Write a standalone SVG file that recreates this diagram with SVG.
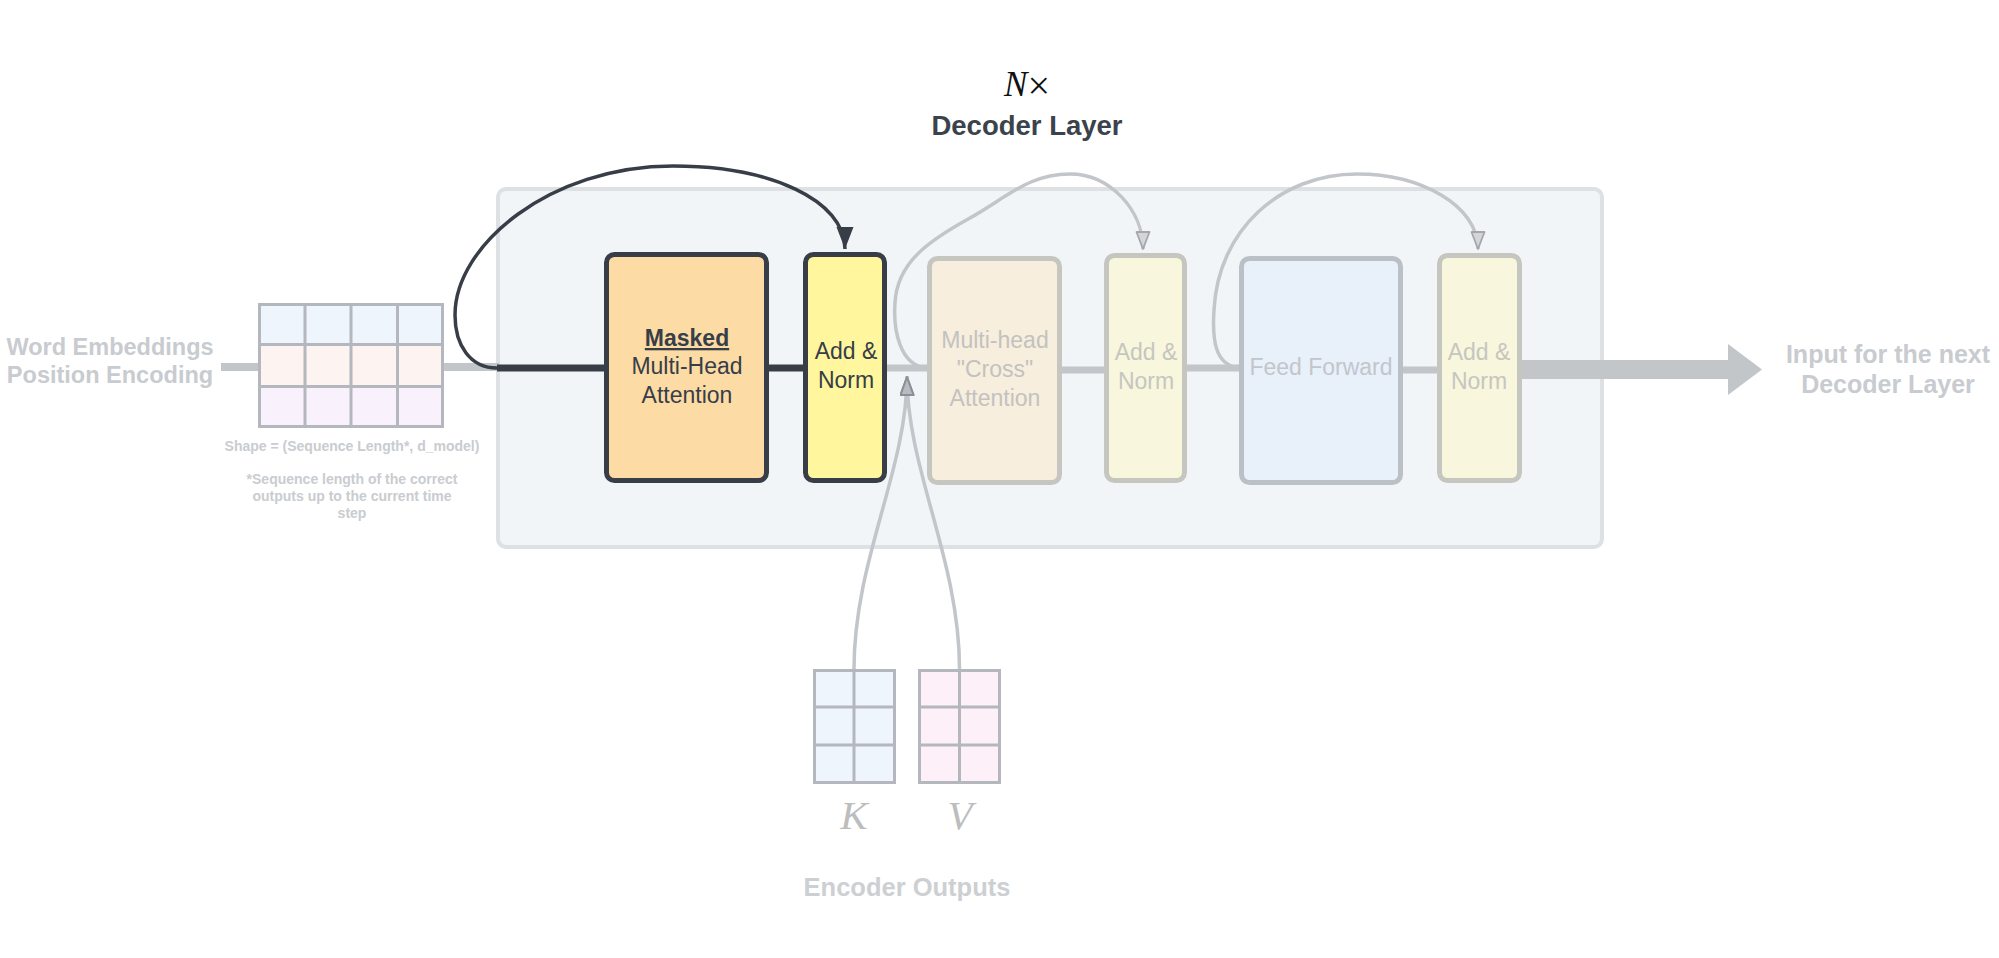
<svg xmlns="http://www.w3.org/2000/svg" width="1999" height="958" viewBox="0 0 1999 958">
<defs>
<style>
.lbl{font-family:"Liberation Sans",Arial,sans-serif;font-weight:bold;fill:#c8cbcf;text-anchor:middle}
.small{font-family:"Liberation Sans",Arial,sans-serif;font-weight:bold;font-size:14px;fill:#c9ccd0;text-anchor:middle}
.box{font-family:"Liberation Sans",Arial,sans-serif;font-size:23px;text-anchor:middle}
.math{font-family:"Liberation Serif","Times New Roman",serif;text-anchor:middle}
.mat{stroke:#b4b7be;stroke-width:3}
.gl{fill:none;stroke:#c2c5c9;stroke-width:3.5}
</style>
<marker id="ad" markerUnits="userSpaceOnUse" markerWidth="24" markerHeight="18" refX="22" refY="8.5" orient="auto" viewBox="0 0 24 18">
<path d="M0,0 L22,8.5 L0,17 z" fill="#373e47"/>
</marker>
<marker id="ag" markerUnits="userSpaceOnUse" markerWidth="20" markerHeight="16" refX="18" refY="7.5" orient="auto" viewBox="0 0 20 16">
<path d="M1,1 L18,7.5 L1,14 z" fill="#d3d5d8" stroke="#a4a8ad" stroke-width="1.8" stroke-linejoin="round"/>
</marker>
<marker id="ae" markerUnits="userSpaceOnUse" markerWidth="22" markerHeight="16" refX="20" refY="7.5" orient="auto" viewBox="0 0 22 16">
<path d="M1,1 L19,7.5 L1,14 z" fill="#b8bcc1" stroke="#8a9097" stroke-width="2" stroke-linejoin="round"/>
</marker>
</defs>
<rect width="1999" height="958" fill="#ffffff"/>

<g id="title">
<text class="math" x="1027" y="96" font-size="35" fill="#111111"><tspan font-style="italic">N</tspan><tspan font-size="40" dy="3">×</tspan></text>
<text class="lbl" x="1027" y="135" font-size="27.5" style="fill:#3a424b">Decoder Layer</text>
</g>

<g id="decoder-layer">
<rect x="498" y="189" width="1104" height="358" rx="8" fill="#f2f5f7" stroke="#dde1e4" stroke-width="4"/>
</g>

<g id="connectors">
<line x1="221" y1="367" x2="258" y2="367" stroke="#c3c6c9" stroke-width="8"/>
<line x1="444" y1="367" x2="499" y2="367" stroke="#c3c6c9" stroke-width="8"/>
<line x1="497" y1="368" x2="606" y2="368" stroke="#373e47" stroke-width="7"/>
<line x1="767" y1="368" x2="805" y2="368" stroke="#373e47" stroke-width="7"/>
<line x1="887" y1="368" x2="929" y2="368" stroke="#c2c5c9" stroke-width="7"/>
<line x1="1060" y1="370" x2="1106" y2="370" stroke="#c2c5c9" stroke-width="7"/>
<line x1="1185" y1="368" x2="1241" y2="368" stroke="#c2c5c9" stroke-width="7"/>
<line x1="1401" y1="370" x2="1439" y2="370" stroke="#c2c5c9" stroke-width="7"/>
<line x1="1520" y1="369.5" x2="1729" y2="369.5" stroke="#c3c6c9" stroke-width="19"/>
<polygon points="1728,344 1762,369.5 1728,395" fill="#c3c6c9"/>
<path d="M497,368 C470,368 455,345 455,315 C455,245 550,166 673,166 C770,166 845,200 845,249" fill="none" stroke="#373e47" stroke-width="3.5" marker-end="url(#ad)"/>
<path class="gl" d="M927,368 C900,366 893,330 895,303 C897,262 930,240 970,218 C1010,195 1030,174 1070,174 C1110,174 1143,210 1143,249" marker-end="url(#ag)"/>
<path class="gl" d="M1240,368 C1215,366 1212,340 1214,310 C1218,230 1280,174 1357,174 C1420,174 1478,205 1478,249" marker-end="url(#ag)"/>
<path class="gl" d="M854,669 C854,560 907,470 907,376" marker-end="url(#ae)"/>
<path class="gl" d="M959.5,669 C959.5,560 907,470 907,376" marker-end="url(#ae)"/>
</g>

<g id="input-embeddings">
<text class="lbl" x="110" y="355" font-size="23.5">Word Embeddings</text>
<text class="lbl" x="110" y="383" font-size="23.5">Position Encoding</text>
<rect x="259.5" y="304.5" width="183" height="40" fill="#eef5fd"/>
<rect x="259.5" y="344.5" width="183" height="42" fill="#fdf3f0"/>
<rect x="259.5" y="386.5" width="183" height="40" fill="#f9f1fb"/>
<rect class="mat" x="259.5" y="304.5" width="183" height="122" fill="none"/>
<line class="mat" x1="259.5" y1="344.5" x2="442.5" y2="344.5"/>
<line class="mat" x1="259.5" y1="386.5" x2="442.5" y2="386.5"/>
<line class="mat" x1="305" y1="304.5" x2="305" y2="426.5"/>
<line class="mat" x1="351" y1="304.5" x2="351" y2="426.5"/>
<line class="mat" x1="397.5" y1="304.5" x2="397.5" y2="426.5"/>
<text class="small" x="352" y="451">Shape = (Sequence Length*, d_model)</text>
<text class="small" x="352" y="484">*Sequence length of the correct</text>
<text class="small" x="352" y="501">outputs up to the current time</text>
<text class="small" x="352" y="518">step</text>
</g>

<g id="masked-mha">
<rect x="606.5" y="254.5" width="160" height="226" rx="8" fill="#fddba5" stroke="#373e47" stroke-width="5"/>
<text class="box" x="687" y="346" font-weight="bold" text-decoration="underline" fill="#373e47">Masked</text>
<text class="box" x="687" y="374" fill="#373e47">Multi-Head</text>
<text class="box" x="687" y="403" fill="#373e47">Attention</text>
</g>

<g id="add-norm-1">
<rect x="805.5" y="254.5" width="79" height="226" rx="8" fill="#fff69e" stroke="#373e47" stroke-width="5"/>
<text class="box" x="846" y="359" fill="#373e47">Add &amp;</text>
<text class="box" x="846" y="388" fill="#373e47">Norm</text>
</g>

<g id="cross-attention">
<rect x="929.5" y="258.5" width="130" height="224" rx="8" fill="#f8eedd" stroke="#c6c6c1" stroke-width="5"/>
<text class="box" x="995" y="348" fill="#c2c2c0">Multi-head</text>
<text class="box" x="995" y="377" fill="#c2c2c0">"Cross"</text>
<text class="box" x="995" y="406" fill="#c2c2c0">Attention</text>
</g>

<g id="add-norm-2">
<rect x="1106.5" y="255.5" width="78" height="225" rx="8" fill="#f8f6dc" stroke="#c6c6c0" stroke-width="5"/>
<text class="box" x="1146" y="360" fill="#c6c6bf">Add &amp;</text>
<text class="box" x="1146" y="389" fill="#c6c6bf">Norm</text>
</g>

<g id="feed-forward">
<rect x="1241.5" y="258.5" width="159" height="224" rx="8" fill="#e8f0fa" stroke="#bbc0c6" stroke-width="5"/>
<text class="box" x="1321" y="375" fill="#c2c6cc">Feed Forward</text>
</g>

<g id="add-norm-3">
<rect x="1439.5" y="255.5" width="80" height="225" rx="8" fill="#f8f6dc" stroke="#c6c6c0" stroke-width="5"/>
<text class="box" x="1479" y="360" fill="#c6c6bf">Add &amp;</text>
<text class="box" x="1479" y="389" fill="#c6c6bf">Norm</text>
</g>

<g id="output">
<text class="lbl" x="1888" y="363" font-size="25">Input for the next</text>
<text class="lbl" x="1888" y="393" font-size="25">Decoder Layer</text>
</g>

<g id="encoder-outputs">
<rect class="mat" x="814.5" y="670.5" width="80" height="112" fill="#eef5fd"/>
<line class="mat" x1="814.5" y1="707" x2="894.5" y2="707"/>
<line class="mat" x1="814.5" y1="745" x2="894.5" y2="745"/>
<line class="mat" x1="854" y1="670.5" x2="854" y2="782.5"/>
<rect class="mat" x="919.5" y="670.5" width="80" height="112" fill="#fdf0f9"/>
<line class="mat" x1="919.5" y1="707" x2="999.5" y2="707"/>
<line class="mat" x1="919.5" y1="745" x2="999.5" y2="745"/>
<line class="mat" x1="959.5" y1="670.5" x2="959.5" y2="782.5"/>
<text class="math" x="854" y="829" font-size="41" font-style="italic" fill="#bdbdbd">K</text>
<text class="math" x="960" y="829" font-size="41" font-style="italic" fill="#bdbdbd">V</text>
<text class="lbl" x="907" y="896" font-size="25.5" style="fill:#cdd0d3">Encoder Outputs</text>
</g>
</svg>
